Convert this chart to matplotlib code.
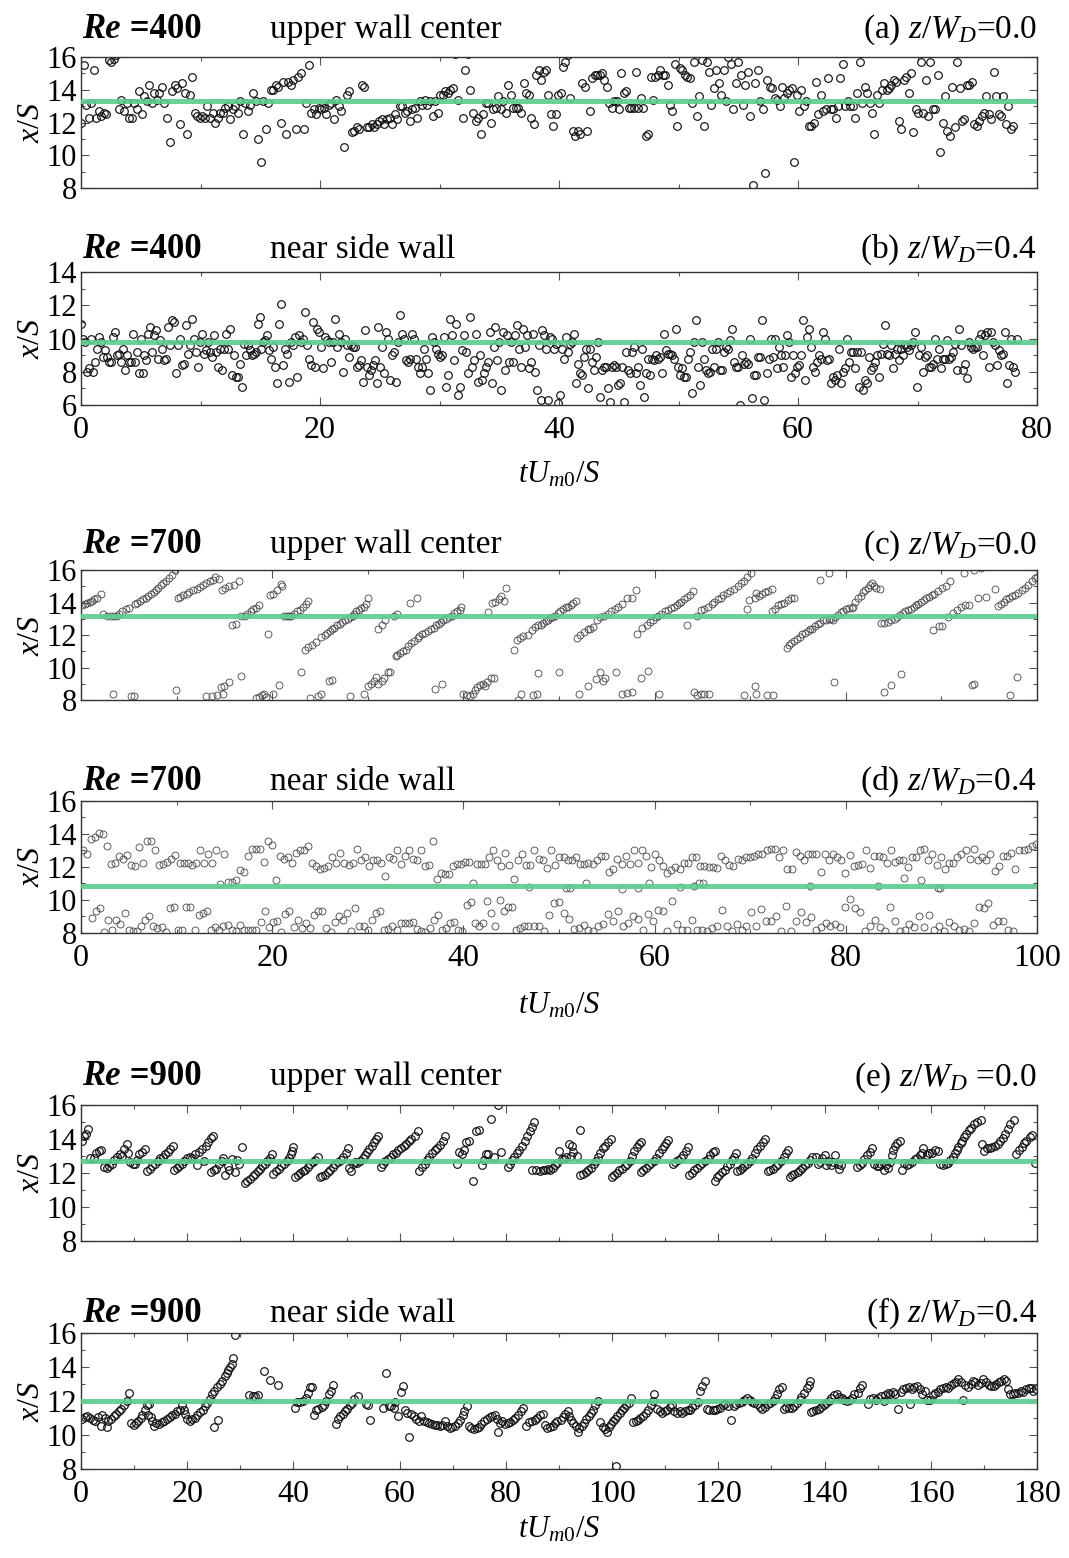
import numpy as np
import matplotlib.pyplot as plt
from matplotlib.ticker import MultipleLocator

plt.rcParams['font.family'] = 'Liberation Serif'
plt.rcParams['mathtext.fontset'] = 'custom'
plt.rcParams['mathtext.rm'] = 'Liberation Serif'
plt.rcParams['mathtext.it'] = 'Liberation Serif:italic'
plt.rcParams['mathtext.bf'] = 'Liberation Serif:bold'

GREEN = '#5ccb8f'

# ---------------- data ----------------
# (a) Re=400, upper wall center: evenly sampled in time, two stretches
a_first = [12.0, 15.5, 13.1, 12.25, 13.2, 15.2, 12.25, 12.7, 12.4, 12.6, 12.5, 15.8, 15.7, 15.9, 16.1,
           12.8, 13.4, 12.7, 13.2, 12.3, 12.3, 13.2, 12.8, 13.9, 12.5, 13.6, 13.3, 14.3, 13.2, 13.8,
           13.4, 13.8, 14.2, 13.2, 12.3, 10.8, 13.9, 14.3, 14.1, 11.9, 14.4, 13.8, 11.3, 13.7, 14.8,
           12.6, 12.4, 12.3, 12.4, 12.3, 13.0, 12.3, 12.6, 12.0, 12.3, 12.6, 12.6, 12.9, 13.0, 12.2,
           12.8, 13.0, 12.6, 13.3, 11.3, 13.2, 12.7, 13.1, 13.8, 13.3, 11.0, 9.6, 13.3, 11.6, 13.2,
           14.0, 14.0, 14.3, 14.2, 12.0, 14.5, 11.3, 14.5, 14.3, 14.6, 11.6, 14.8, 15.0, 11.6, 13.2,
           15.5, 12.6, 12.8, 12.5, 12.9, 12.8, 12.9, 12.5, 13.1, 13.2, 12.2, 13.4, 13.0, 12.7, 10.5,
           13.7, 13.9, 11.4, 11.5, 11.7, 11.6, 14.3, 14.2, 11.7, 11.7, 11.9, 11.7, 11.9, 12.1, 12.2,
           11.9, 12.2, 12.3, 11.9, 12.5, 12.2, 13.0, 13.0, 12.6, 12.7, 12.1, 12.8, 12.9, 12.3, 13.3,
           13.1, 13.4, 13.1, 13.3, 12.4, 13.3, 12.6, 13.7, 13.7, 13.9, 13.8, 14.0, 14.1, 16.2, 13.4,
           16.3, 12.3, 15.2, 16.2, 14.0, 12.6, 12.1, 12.3, 11.3, 12.5, 13.2, 13.2, 12.0, 12.8, 12.9,
           13.6, 12.8, 13.3, 12.6, 14.3, 13.7, 12.9, 12.9, 12.9, 12.6, 14.4, 13.8, 13.7, 12.3, 11.9,
           14.9, 15.2]
a_second = [14.6, 15.1, 15.2, 13.7, 12.5, 11.8, 12.5, 13.7, 13.8, 15.4, 15.7, 16.1, 13.5, 11.5, 11.2,
            11.5, 11.3, 14.4, 14.2, 11.5, 12.7, 14.7, 14.9, 14.9, 14.9, 15.0, 14.6, 14.2, 13.2, 12.9,
            13.3, 13.3, 12.8, 15.0, 13.8, 13.9, 12.9, 12.9, 12.9, 15.1, 12.9, 13.5, 12.9, 11.2, 11.3,
            14.8, 13.4, 14.8, 14.9, 15.2, 14.9, 14.9, 14.3, 13.1, 12.7, 15.6, 11.8, 15.3, 15.2, 14.9,
            14.8, 14.7, 13.2, 15.7, 12.4, 13.6, 15.8, 11.8, 15.7, 15.1, 13.1, 14.1, 15.2, 14.4, 13.7,
            15.2, 13.3, 16.0, 15.6, 12.8, 14.4, 15.7, 14.9, 13.1, 14.3, 15.1, 12.4, 8.2, 14.4, 15.2,
            13.3, 12.8, 8.9, 14.6, 14.2, 14.1, 13.5, 13.4, 13.0, 14.2, 13.5, 13.8, 14.0, 14.1, 9.6,
            13.7, 12.7, 14.0, 13.0, 13.3, 11.8, 11.8, 12.0, 14.5, 12.5, 13.7, 12.7, 12.8, 14.7, 12.8,
            12.8, 12.3, 13.0, 14.7, 15.6, 13.0, 13.3, 13.0, 13.0, 12.3, 13.8, 15.7, 13.2, 14.2, 13.8,
            13.2, 12.6, 11.3, 13.7, 13.2, 14.0, 14.4, 14.0, 14.1, 14.3, 14.6, 14.5, 12.1, 11.6, 14.6,
            14.8, 13.8, 15.0, 11.4, 12.8, 12.6, 15.7, 12.6, 14.6, 12.4, 15.7, 12.8, 12.8, 14.9, 10.2,
            12.0, 13.6, 11.5, 11.2, 14.2, 11.7, 15.7, 14.1, 12.1, 12.2, 14.3, 14.3, 14.5, 11.9, 11.8,
            12.1, 12.4, 12.6, 13.6, 12.5, 12.2, 15.1, 13.6, 12.5, 12.4, 13.6, 11.9, 13.0, 11.6, 11.8]
a_mean = 13.3

# (b) Re=400, near side wall
b_first = [10.9, 10.0, 9.8, 8.0, 8.2, 10.0, 8.0, 8.6, 9.4, 10.1, 9.8, 8.9, 9.3, 8.9, 8.6, 8.6, 10.1, 10.4,
           9.0, 9.1, 8.6, 9.4, 8.1, 9.0, 8.6, 8.6, 10.3, 8.6, 9.2, 7.9, 10.0, 7.9, 9.0, 8.7, 10.3, 10.7,
           9.2, 10.2, 10.5, 8.8, 9.9, 9.4, 8.7, 8.8, 10.7, 9.6, 11.1, 11.0, 7.9, 9.6, 10.0, 8.4, 8.5,
           10.8, 9.1, 9.6, 11.2, 10.0, 9.2, 8.3, 9.8, 10.3, 9.1, 9.3, 9.8, 9.2, 8.9, 10.2, 9.2, 8.3,
           9.4, 8.1, 9.4, 10.3, 9.4, 10.6, 7.8, 9.0, 7.7, 7.7, 8.5, 7.1, 9.7, 9.0, 9.6, 9.3, 9.0, 9.1,
           9.2, 10.9, 11.3, 9.4, 9.8, 9.9, 10.2, 9.3, 8.8, 9.5, 8.3, 7.3, 10.9, 12.1, 8.4, 9.4, 9.1,
           7.4, 9.8, 9.6, 10.1, 7.7, 10.2, 9.8, 10.0, 11.6, 9.6, 8.8, 8.4, 11.0, 8.3, 10.6, 10.4, 9.5,
           8.2, 10.1, 9.9, 9.8, 8.6, 9.8, 11.2, 9.5, 10.3, 9.8, 8.0, 10.0, 9.6, 8.9, 9.6, 9.5, 9.5,
           8.3, 8.4, 8.7, 7.4, 10.5, 8.3, 7.8, 8.1, 8.4, 8.7, 7.3, 10.7, 8.3, 9.5, 7.9, 10.4, 10.0,
           7.5, 9.0, 9.2, 7.4, 9.8, 11.4, 10.3, 10.0, 8.7, 8.6, 8.8, 10.3, 10.0, 8.8, 8.3, 7.9, 8.3,
           9.4, 8.8, 7.9, 6.9, 10.1, 9.8, 9.4, 9.1, 8.9, 9.0, 10.1, 7.1, 7.8, 11.2, 10.2, 8.7, 10.9,
           6.6, 7.1, 9.3, 10.2, 9.2, 7.9, 11.3, 8.3, 8.7, 10.3, 7.4, 9.0, 7.5, 7.9, 8.3, 8.6, 10.4,
           7.3, 9.5, 10.7, 8.7, 9.8, 6.9, 10.4, 8.1, 10.2, 8.6, 9.8, 8.6, 10.2, 10.8, 9.4, 8.3, 10.6,
           9.5, 10.2, 8.2, 8.6, 10.3, 8.0, 6.9, 9.6, 6.3]
b_second = [10.5, 10.2, 9.4, 6.3, 10.1, 10.0, 9.4, 9.7, 6.1, 6.6, 9.4, 8.8, 10.1, 9.2, 9.7, 9.8, 10.3,
            7.3, 8.5, 7.9, 7.8, 8.9, 9.4, 7.0, 9.4, 8.6, 8.1, 8.9, 9.8, 6.5, 8.1, 8.3, 8.3, 7.0, 6.2,
            8.3, 8.4, 8.3, 7.2, 7.3, 8.3, 6.2, 9.2, 8.1, 7.9, 9.2, 9.5, 7.9, 8.3, 7.2, 9.4, 6.5, 7.9,
            8.8, 7.8, 8.8, 8.7, 9.0, 8.8, 8.9, 7.9, 10.3, 9.3, 9.1, 9.1, 9.0, 8.8, 10.6, 8.3, 7.8, 8.2,
            7.7, 7.7, 8.8, 9.2, 6.7, 9.8, 11.1, 8.3, 7.2, 9.8, 8.8, 8.1, 7.9, 8.0, 9.4, 8.3, 9.4, 9.8,
            8.1, 8.1, 9.2, 9.5, 9.4, 9.9, 10.6, 8.6, 8.3, 8.3, 6.0, 9.0, 8.5, 8.6, 8.5, 10.0, 6.4, 7.8,
            7.8, 8.9, 8.9, 11.1, 6.3, 7.9, 8.8, 10.0, 8.9, 10.0, 8.2, 9.5, 9.0, 8.3, 9.0, 10.2, 9.8,
            7.7, 9.0, 7.9, 8.3, 8.4, 9.0, 11.1, 7.5, 10.1, 10.6, 9.5, 8.3, 8.0, 8.6, 9.0, 8.8, 10.4,
            10.0, 8.7, 8.8, 7.3, 7.7, 7.5, 7.8, 9.4, 7.3, 8.0, 8.2, 10.0, 8.6, 9.2, 9.2, 8.2, 9.2, 7.1,
            9.2, 6.9, 7.5, 7.3, 8.9, 8.1, 8.3, 8.6, 9.0, 7.7, 9.1, 9.7, 10.8, 9.1, 9.0, 9.6, 8.2, 9.1,
            9.4, 8.7, 9.4, 9.0, 9.6, 9.5, 9.3, 9.6, 9.8, 10.4, 7.1, 9.0, 9.5, 8.0, 8.9, 9.0, 8.3, 8.3,
            8.5, 10.0, 8.8, 9.4, 8.2, 8.8, 8.8, 9.9, 8.8, 8.9, 9.2, 9.7, 8.1, 10.6, 9.6, 8.1, 8.5, 7.6,
            9.8, 9.5, 9.4, 9.5, 9.5, 10.0, 10.3, 9.0, 10.2, 10.4, 8.3, 10.4, 9.8, 9.6, 8.4, 9.3, 9.0,
            9.1, 10.4, 7.3, 8.4, 10.0, 8.3, 8.0, 10.0]
b_mean = 9.78

# (c) Re=700, upper wall center: (t, x/S)
c_pts = [
    (0.1, 13.85), (0.4, 13.9), (0.6, 14.0), (0.9, 14.05), (1.1, 14.1), (1.4, 14.2), (1.7, 14.3), (2.1, 14.5),
    (2.3, 13.3), (2.7, 13.2), (3.1, 13.15), (3.4, 13.15), (3.8, 13.2), (4.0, 13.3), (4.3, 13.45), (4.7, 13.6),
    (5.0, 13.65), (5.6, 13.9), (5.9, 14.0), (6.2, 14.1), (6.5, 14.2), (6.8, 14.3), (7.0, 14.4), (7.3, 14.5),
    (7.6, 14.65), (7.8, 14.8), (8.1, 14.9), (8.4, 15.1), (8.6, 15.2), (8.9, 15.35), (9.2, 15.5), (9.5, 15.7),
    (9.8, 16.0), (3.3, 8.4), (5.2, 8.25), (5.5, 8.25), (9.9, 8.6),
    (10.1, 14.3), (10.4, 14.35), (10.7, 14.45), (11.1, 14.55), (11.3, 14.65), (11.7, 14.75), (12.1, 14.85),
    (12.4, 14.95), (12.8, 15.1), (13.1, 15.2), (13.5, 15.3), (13.8, 15.4), (14.0, 15.6), (14.4, 15.45),
    (14.7, 14.8), (15.1, 14.9), (15.5, 15.0), (16.0, 15.1), (16.5, 15.35),
    (13.1, 8.25), (13.7, 8.25), (14.2, 8.3), (14.6, 8.8), (14.9, 8.35), (15.0, 8.85), (15.5, 9.1), (16.7, 9.5),
    (15.8, 12.6), (16.2, 12.65),
    (18.3, 8.15), (18.6, 8.2), (18.9, 8.3), (19.1, 8.4), (19.4, 8.2), (20.1, 8.4), (20.7, 8.9), (19.6, 12.05),
    (19.8, 14.45), (20.1, 14.55), (20.5, 14.75), (20.9, 15.15), (21.0, 15.0),
    (16.7, 13.15), (17.1, 13.2), (17.4, 13.3), (17.8, 13.5), (18.0, 13.6), (18.3, 13.65), (18.6, 13.85),
    (21.2, 13.15), (21.5, 13.2), (21.8, 13.15), (22.0, 13.2), (22.3, 13.3), (22.6, 13.45), (22.9, 13.55),
    (23.2, 13.75), (23.5, 13.9), (23.7, 14.1), (23.0, 9.75),
    (23.4, 11.1), (23.7, 11.25), (24.2, 11.4), (24.6, 11.6), (25.1, 11.9), (25.5, 12.0), (25.7, 12.15),
    (26.0, 12.25), (26.3, 12.35), (26.5, 12.45), (26.8, 12.6), (27.1, 12.7), (27.3, 12.8), (27.6, 12.95),
    (27.9, 13.0), (28.1, 13.1), (28.4, 13.15), (28.6, 13.3), (28.8, 13.45), (29.1, 13.55), (29.3, 13.65),
    (29.6, 13.75), (29.8, 13.9), (30.0, 14.25),
    (24.0, 8.15), (24.8, 8.25), (25.1, 8.4), (25.9, 9.2), (26.3, 9.25), (28.1, 8.25), (29.6, 8.4), (30.0, 8.85),
    (30.3, 9.0), (30.6, 9.2), (30.9, 9.4), (31.1, 9.0), (31.5, 9.2), (31.7, 9.35), (32.1, 9.7), (32.3, 9.75),
    (31.1, 12.4), (31.5, 12.6), (31.8, 12.9), (32.7, 13.15), (33.0, 13.3), (34.4, 13.95), (35.1, 14.25),
    (32.9, 10.7), (33.1, 10.75), (33.4, 10.9), (33.7, 11.0), (34.0, 11.1), (34.2, 11.3), (34.5, 11.5),
    (34.8, 11.65), (35.2, 11.8), (35.4, 11.95), (35.7, 12.05), (36.0, 12.15), (36.3, 12.25), (36.6, 12.35),
    (36.9, 12.45), (37.1, 12.6), (37.4, 12.7), (37.7, 12.8), (37.9, 12.9), (38.2, 13.0), (38.5, 13.1),
    (38.8, 13.15), (39.0, 13.35), (39.3, 13.45), (39.6, 13.55), (39.7, 13.7),
    (37.0, 8.65), (37.8, 9.0), (40.0, 8.35), (40.4, 8.3), (40.7, 8.25), (41.0, 8.4), (41.2, 8.6), (41.4, 8.8),
    (41.7, 8.9), (42.0, 9.0), (42.3, 8.85), (42.5, 9.1), (42.9, 9.35), (43.2, 9.35),
    (42.6, 13.4), (43.0, 13.95), (43.3, 14.05), (43.7, 14.2), (43.9, 14.4), (44.2, 14.1), (44.5, 14.9),
    (45.3, 11.1), (45.6, 11.7), (45.9, 11.8), (46.2, 11.95), (45.7, 8.0), (46.0, 8.4), (47.3, 8.3),
    (46.8, 12.0), (47.2, 12.3), (47.5, 12.5), (47.8, 12.6), (48.1, 12.6), (48.3, 12.75), (48.6, 12.85),
    (48.8, 12.95), (49.1, 13.05), (49.3, 13.1), (49.6, 13.2), (49.9, 13.35), (50.1, 13.45), (50.4, 13.6),
    (50.7, 13.7), (50.9, 13.75), (51.2, 13.85), (51.5, 13.95), (51.8, 14.1),
    (47.8, 9.65), (47.7, 8.35), (50.0, 9.75), (52.1, 8.35), (53.0, 8.85), (53.9, 9.3), (54.3, 9.75),
    (54.6, 9.2), (54.8, 9.35), (56.0, 9.7), (56.6, 8.35), (57.1, 8.45), (57.6, 8.5), (58.6, 9.35),
    (59.3, 9.8), (60.5, 8.4),
    (51.9, 11.8), (52.2, 12.0), (52.6, 12.2), (53.0, 12.35), (53.2, 12.4), (53.6, 12.5), (54.0, 12.95),
    (54.3, 13.1), (54.7, 13.2), (55.1, 13.3), (55.4, 13.45), (55.9, 13.6), (56.2, 13.75), (56.6, 13.9),
    (57.1, 14.25), (57.6, 14.3), (58.0, 14.75),
    (58.2, 12.05), (58.7, 12.45), (59.2, 12.6), (59.5, 12.8), (59.8, 12.95), (60.1, 13.1), (60.4, 13.2),
    (60.7, 13.3), (61.1, 13.45), (61.4, 13.55), (61.7, 13.65), (62.0, 13.75), (62.3, 13.85), (62.5, 13.95),
    (62.8, 14.05), (63.1, 14.2), (63.4, 14.35), (63.7, 14.45), (64.0, 14.7), (63.4, 12.6), (64.4, 13.2),
    (64.1, 8.5), (64.4, 8.3), (64.8, 8.35), (65.2, 8.4), (65.7, 8.4),
    (64.9, 13.55), (65.2, 13.6), (65.6, 13.7), (66.0, 13.9), (66.2, 14.05), (66.6, 14.2), (66.9, 14.3),
    (67.2, 14.45), (67.6, 14.6), (67.9, 14.7), (68.3, 14.85), (68.7, 15.0), (69.0, 15.2), (69.4, 15.35),
    (69.7, 15.55), (70.1, 15.85),
    (69.7, 13.6), (69.9, 14.15), (70.5, 14.3), (70.6, 14.6), (70.9, 14.4), (71.2, 14.55), (71.5, 14.65),
    (71.9, 14.7), (72.3, 14.85), (69.4, 8.3), (70.5, 8.85), (70.6, 8.35), (71.8, 8.3), (72.4, 8.3),
    (72.3, 13.5), (72.6, 13.6), (72.9, 13.85), (73.2, 13.9), (73.5, 14.0), (73.9, 14.15), (74.3, 14.25),
    (74.6, 14.25), (77.3, 15.4), (78.2, 15.8),
    (73.8, 11.2), (74.1, 11.4), (74.3, 11.5), (74.6, 11.65), (74.9, 11.75), (75.2, 11.85), (75.4, 12.05),
    (75.7, 12.1), (76.0, 12.25), (76.2, 12.35), (76.5, 12.4), (76.8, 12.55), (77.1, 12.7), (77.3, 12.75),
    (77.6, 12.9), (77.9, 12.95), (78.2, 13.0), (78.4, 13.0), (78.7, 12.9), (78.9, 13.1), (79.2, 13.25),
    (79.5, 13.4), (79.7, 13.45), (80.0, 13.6), (80.3, 13.65), (80.6, 13.65), (80.8, 13.7), (81.0, 14.05),
    (81.3, 14.25), (81.6, 14.4), (81.8, 14.65), (82.0, 14.75), (82.3, 14.9), (82.5, 15.1), (82.7, 15.2),
    (82.9, 15.0), (83.2, 14.9), (83.6, 14.85),
    (78.8, 9.1), (84.0, 8.5), (84.7, 8.95), (85.8, 9.6),
    (83.7, 12.75), (84.0, 12.75), (84.4, 12.8), (84.7, 12.9), (85.1, 13.0), (85.4, 13.1), (85.7, 13.25),
    (86.0, 13.35), (86.2, 13.45), (86.5, 13.55), (86.8, 13.6), (87.1, 13.75), (87.3, 13.85), (87.6, 13.9),
    (87.9, 14.05), (88.2, 14.15), (88.4, 14.25), (88.7, 14.35), (89.0, 14.45), (89.2, 14.55), (89.6, 14.7),
    (90.1, 14.9), (90.5, 15.0), (90.9, 15.3), (92.4, 15.8), (93.4, 16.0), (94.1, 16.1),
    (89.1, 12.3), (89.7, 12.55), (90.1, 12.55), (90.7, 13.1), (91.2, 13.35), (91.6, 13.55), (92.0, 13.7),
    (92.5, 13.85), (92.9, 13.85), (93.8, 14.25), (94.7, 14.35), (95.6, 14.85),
    (93.2, 8.9), (93.4, 9.0), (97.2, 8.3), (97.9, 9.4),
    (95.9, 13.8), (96.2, 13.9), (96.5, 14.05), (96.8, 14.2), (97.1, 14.3), (97.4, 14.4), (97.7, 14.45),
    (98.0, 14.6), (98.4, 14.75), (98.7, 14.9), (99.1, 15.1), (99.5, 15.3), (99.8, 15.5), (100.0, 15.6),
]
c_mean = 13.15

# (d) Re=700, near side wall: upper and lower clusters, evenly sampled in time
d_up_first = [13.05, 12.8, 13.7, 13.8, 14.05, 14.0, 13.3, 12.2, 12.25, 12.65, 12.5, 12.7, 12.1, 12.05, 13.2,
              12.25, 13.55, 13.55, 13.05, 12.1, 12.2, 12.3, 12.5, 12.7, 12.25, 12.25, 12.25, 12.1, 12.25,
              13.0, 12.25, 12.8, 12.25, 13.05, 10.95, 12.8, 11.1, 11.1, 11.2, 11.8, 11.7, 12.65, 13.1,
              13.1, 13.1, 12.3, 13.55, 13.35, 11.2, 12.65, 12.5, 12.6, 12.25, 12.85, 13.0, 13.05, 13.25,
              12.25, 12.05, 11.85, 11.95, 12.05, 12.6, 12.25, 12.85, 12.25, 12.1, 12.25, 13.1, 12.4,
              12.6, 12.05, 12.45, 12.45, 12.25, 11.45, 12.6, 12.5, 13.0, 12.15, 12.65, 13.0, 12.5, 12.4,
              13.0, 12.05, 12.1, 13.55, 11.25, 11.65, 11.55, 11.55, 12.05, 12.15, 12.15, 12.3, 12.3,
              11.05, 12.2, 12.2, 12.2, 12.6, 13.05, 12.4, 12.05, 12.85, 12.1, 11.25, 12.45, 12.8, 12.1]
d_up_second = [12.1, 13.0, 12.5, 12.45, 11.95, 13.05, 12.1, 12.6, 12.6, 12.4, 12.4, 12.6, 12.2, 12.15,
               12.25, 12.15, 12.4, 12.65, 12.65, 11.7, 11.9, 12.5, 12.15, 12.65, 12.2, 13.0, 12.25, 13.0,
               12.65, 12.0, 12.8, 12.4, 12.05, 11.65, 11.8, 12.0, 11.9, 12.25, 12.25, 12.6, 12.6, 12.05,
               12.05, 12.0, 12.0, 11.95, 12.65, 12.45, 12.1, 12.05, 12.5, 12.45, 12.6, 12.6, 12.65, 12.8,
               12.8, 13.05, 13.1, 13.1, 12.6, 13.05, 11.9, 11.9, 12.9, 12.65, 12.4, 12.8, 12.8, 12.8,
               11.7, 12.8, 12.45, 12.8, 12.6, 12.4, 11.65, 12.7, 12.05, 12.1, 12.15, 13.0, 11.95, 12.65,
               12.65, 12.6, 12.25, 13.0, 12.3, 12.45, 12.45, 12.0, 12.6, 12.6, 13.0, 13.1, 12.45, 12.8,
               12.1, 12.6, 11.9, 12.25, 12.25, 12.6, 12.8, 13.05, 12.5, 13.1, 12.45, 12.6, 12.4, 12.8,
               11.75, 12.05, 12.65, 12.65, 12.85, 11.9, 13.05, 13.05, 13.1, 13.25, 13.4]
d_low_first = [8.9, 9.35, 9.5, 8.05, 8.8, 8.2, 8.8, 8.55, 9.2, 8.2, 8.1, 8.1, 8.45, 8.8, 9.0, 8.45, 8.3,
               8.35, 8.05, 9.5, 9.6, 8.15, 8.15, 9.55, 9.6, 8.15, 9.1, 9.2, 9.3, 8.2, 8.35, 8.2, 8.45, 8.5,
               8.2, 8.1, 8.5, 8.2, 8.2, 8.15, 8.2, 8.65, 9.35, 8.35, 8.65, 8.7, 8.05, 9.15, 9.3, 8.35, 8.8,
               8.3, 8.6, 8.3, 9.1, 9.3, 9.35, 8.3, 8.05, 8.65, 9.0, 8.8, 9.2, 8.1, 9.5, 8.45, 8.45, 8.15,
               8.8, 9.2, 9.35, 8.15, 8.25, 8.4, 8.15, 8.6, 8.6, 8.6, 8.65, 8.25, 8.1, 8.05, 8.3, 8.8, 9.1,
               8.2, 8.3, 8.6, 8.65, 8.2, 8.1, 9.7, 9.85, 8.6, 8.4, 8.6, 9.95, 9.2, 8.45, 10.0, 9.35, 9.55,
               9.6, 8.15, 8.3, 8.45, 8.4]
d_low_second = [8.4, 8.45, 8.1, 9.1, 9.8, 9.85, 9.2, 8.85, 8.25, 8.3, 8.5, 8.2, 8.1, 8.45, 8.55, 9.15,
                8.75, 9.3, 8.4, 8.6, 9.0, 8.85, 8.2, 9.15, 8.75, 9.4, 9.3, 8.1, 9.95, 8.55, 8.2, 8.2, 8.8,
                8.2, 8.2, 8.1, 8.3, 8.45, 9.4, 8.4, 8.1, 8.55, 8.2, 8.4, 9.25, 8.45, 9.45, 8.75, 8.75, 9.0,
                8.1, 9.65, 8.1, 8.75, 9.25, 8.65, 8.95, 8.2, 8.35, 8.6, 8.4, 8.55, 8.35, 9.6, 10.05, 9.5,
                9.25, 8.1, 8.45, 8.8, 8.35, 8.1, 9.6, 8.75, 8.1, 8.15, 8.55, 8.35, 9.05, 8.35, 9.1, 8.2,
                8.45, 8.1, 8.65, 8.4, 8.2, 8.25, 8.1, 8.6, 9.6, 9.5, 9.8, 8.5, 8.75, 8.75, 8.2, 8.1]
d_mid_pts = [(46.9, 10.8), (50.7, 10.7), (51.1, 10.7), (52.8, 11.0), (56.6, 10.65), (58.3, 10.7),
             (59.4, 11.0), (62.7, 10.8), (64.1, 10.85), (64.6, 11.0), (65.1, 11.0), (76.3, 10.85),
             (83.4, 10.85), (86.1, 11.35), (87.9, 11.2), (89.6, 10.7), (89.9, 10.7)]
d_mean = 10.84

# (e) Re=900, upper wall center: (t, x/S)
e_pts = [
    (0.1, 13.9), (0.5, 14.15), (1.0, 14.3), (1.4, 14.6), (1.7, 12.85), (2.4, 12.85), (2.9, 13.2), (3.4, 13.3),
    (3.8, 13.35), (4.4, 12.35), (4.9, 12.3), (5.3, 12.4), (5.8, 12.55), (6.3, 12.75), (6.8, 12.95), (7.3, 13.1),
    (7.7, 13.0), (8.1, 13.4), (8.6, 13.7), (8.9, 13.2), (9.2, 12.65), (9.7, 12.55), (10.2, 12.5), (10.5, 12.75),
    (11.0, 13.1), (11.5, 13.25), (12.0, 13.4),
    (12.5, 12.1), (12.9, 12.25), (13.4, 12.4), (13.9, 12.55), (14.4, 12.7), (14.9, 12.85), (15.4, 12.95),
    (15.9, 13.1), (16.4, 13.25), (16.8, 13.4), (17.4, 13.6),
    (17.5, 12.2), (18.0, 12.3), (18.5, 12.4), (19.0, 12.55), (19.4, 12.7), (19.9, 12.85), (20.5, 12.95),
    (20.9, 12.9), (21.4, 13.1), (21.9, 12.45), (22.2, 13.25), (22.7, 13.4), (23.1, 12.7), (23.5, 13.6),
    (24.0, 13.8), (24.4, 14.05), (24.8, 14.15),
    (24.5, 12.05), (25.0, 12.15), (25.5, 12.25), (25.9, 12.5), (26.5, 12.7), (26.8, 12.9), (27.1, 11.9),
    (27.6, 12.4), (27.9, 12.2), (28.4, 12.8), (28.9, 12.05), (29.4, 12.75), (29.8, 12.55), (30.4, 13.5),
    (30.9, 11.4), (31.3, 11.5), (31.8, 11.65), (32.3, 11.8), (32.8, 11.95), (33.3, 12.1), (33.7, 12.25),
    (34.1, 12.4), (34.6, 12.55), (35.0, 12.7), (35.5, 12.85), (35.9, 13.1),
    (36.2, 11.95), (36.7, 12.1), (37.2, 12.25), (37.6, 12.4), (38.2, 12.55), (38.7, 12.7), (39.1, 12.9),
    (39.5, 13.1), (39.8, 13.3), (40.0, 13.5),
    (40.2, 11.75), (40.8, 11.85), (41.3, 12.0), (41.7, 12.1), (42.2, 12.2), (42.7, 12.35), (43.2, 12.5),
    (43.7, 12.65), (44.1, 12.75), (44.7, 12.95),
    (45.0, 11.75), (45.4, 11.8), (45.9, 11.9), (46.5, 12.05), (46.9, 12.2), (47.4, 12.35), (47.9, 12.5),
    (48.4, 12.65), (48.9, 12.75), (49.4, 12.95), (49.9, 13.15), (50.2, 13.45),
    (50.5, 12.3), (50.9, 12.1), (51.2, 12.5), (51.5, 12.65), (52.0, 12.6), (52.5, 12.7), (53.0, 12.85),
    (53.5, 13.05), (53.9, 13.25), (54.3, 13.4), (54.8, 13.6), (55.2, 13.8), (55.6, 14.0), (56.0, 14.15),
    (56.4, 12.35), (56.9, 12.55), (57.3, 12.7), (57.8, 12.8), (58.3, 12.95), (58.8, 13.1), (59.3, 13.2),
    (59.7, 13.35), (60.3, 13.45), (60.8, 13.6), (61.2, 13.7), (61.7, 13.85), (62.2, 14.0), (62.9, 14.15),
    (63.4, 14.45),
    (63.7, 12.1), (64.2, 12.35), (64.7, 12.55), (65.2, 12.75), (65.6, 12.95), (66.1, 13.15), (66.6, 13.35),
    (67.1, 13.45), (67.6, 13.65), (68.1, 13.9), (68.6, 14.15),
    (70.8, 12.55), (71.2, 13.25), (71.7, 13.1), (72.1, 13.35), (72.5, 13.8), (73.1, 13.85), (73.8, 11.5),
    (74.3, 14.45), (74.9, 14.5), (75.5, 12.45), (75.9, 12.75), (76.2, 13.1), (76.7, 13.1), (77.1, 15.2),
    (77.8, 12.95), (78.5, 16.0), (79.0, 13.25),
    (80.3, 12.35), (80.8, 12.55), (81.1, 12.75), (81.6, 12.95), (82.1, 13.15), (82.5, 13.35), (83.0, 13.6),
    (83.5, 13.85), (84.0, 14.15), (84.5, 14.45), (85.0, 14.7), (85.3, 15.0), (85.0, 12.15), (85.6, 12.2),
    (86.4, 12.1), (86.9, 12.2), (87.4, 12.2), (87.9, 12.25), (88.3, 12.2), (88.8, 12.3), (89.2, 12.45),
    (89.6, 12.6), (90.0, 13.3), (90.5, 12.8), (90.9, 12.8), (91.4, 12.95), (91.8, 13.7), (92.4, 13.6),
    (92.7, 13.25), (92.2, 13.0), (93.4, 13.0), (93.9, 14.55),
    (94.0, 11.9), (94.5, 11.95), (95.0, 12.05), (95.5, 12.15), (96.0, 12.3), (96.5, 12.5), (97.0, 12.7),
    (97.3, 12.95), (97.8, 13.2), (98.3, 13.45), (98.7, 13.6), (99.2, 13.8), (99.8, 14.0),
    (99.9, 11.75), (100.4, 11.9), (100.9, 12.0), (101.3, 12.15), (101.8, 12.25), (102.4, 12.4), (102.8, 12.5),
    (103.3, 12.7), (103.7, 13.0), (104.1, 13.3), (104.6, 13.5), (105.0, 13.7), (105.4, 13.8),
    (105.4, 12.05), (105.9, 12.2), (106.4, 12.3), (106.9, 12.45), (107.4, 12.6), (107.8, 12.7), (108.3, 12.9),
    (108.9, 13.15), (109.3, 13.4), (109.8, 13.6), (110.2, 13.75), (110.6, 13.95),
    (111.5, 12.5), (111.9, 12.65), (112.4, 12.75), (112.9, 12.9), (113.4, 13.05), (113.9, 13.3), (114.3, 13.55),
    (114.5, 11.9), (115.0, 12.0), (115.5, 12.2), (116.0, 12.3), (116.5, 12.45), (117.0, 12.6), (117.4, 12.7),
    (118.0, 12.8), (118.4, 13.05), (118.9, 13.25), (119.4, 13.3),
    (119.3, 11.55), (119.7, 11.75), (120.2, 11.9), (120.7, 12.05), (121.2, 12.2), (121.7, 12.4), (122.1, 12.55),
    (122.6, 12.75), (123.0, 12.95), (123.3, 13.2),
    (123.6, 12.1), (124.1, 12.2), (124.5, 12.3), (124.9, 12.4), (125.4, 12.5), (125.9, 12.7), (126.4, 12.9),
    (126.9, 13.15), (127.3, 13.4), (127.8, 13.6), (128.4, 13.8), (128.8, 14.0),
    (129.3, 12.1), (129.8, 12.15), (130.3, 12.25), (130.8, 12.4), (131.2, 12.5), (131.7, 12.7), (132.3, 12.95),
    (132.7, 13.15), (133.2, 13.35),
    (133.4, 11.75), (133.8, 11.85), (134.3, 11.95), (134.9, 12.05), (135.3, 12.2), (135.8, 12.3), (136.3, 12.45),
    (136.8, 12.6), (137.3, 12.75), (137.7, 12.95), (138.3, 12.95), (138.8, 12.5), (139.2, 12.65), (139.6, 12.85),
    (140.1, 13.05), (140.3, 12.45), (140.7, 12.7), (141.2, 12.45), (141.5, 12.65), (142.0, 13.05), (142.5, 12.5),
    (142.8, 12.25), (143.1, 12.45),
    (146.1, 12.35), (146.6, 12.45), (147.0, 12.6), (147.5, 12.8), (148.0, 13.05), (148.5, 13.25), (149.0, 13.45),
    (149.3, 12.5), (149.8, 12.4), (150.3, 12.4), (150.6, 12.5), (151.1, 12.2), (151.6, 12.45), (151.9, 12.3),
    (152.3, 12.65), (152.6, 13.05), (152.9, 13.35), (153.2, 13.6), (153.7, 13.75), (154.2, 13.9),
    (154.5, 12.2), (155.0, 12.6), (155.5, 12.45), (155.9, 12.55), (156.5, 12.65), (157.0, 12.8), (157.4, 12.9),
    (157.9, 13.05), (158.3, 13.2), (158.5, 13.45), (159.2, 13.05), (159.7, 13.15), (160.2, 13.2), (160.7, 13.35),
    (161.3, 13.3),
    (161.8, 12.5), (162.3, 12.45), (162.8, 12.5), (163.3, 12.6), (163.7, 12.75), (164.1, 12.95), (164.6, 13.15),
    (164.9, 13.35), (165.2, 13.55), (165.6, 13.75), (165.9, 13.9), (166.3, 14.1), (166.7, 14.3), (167.2, 14.5),
    (167.6, 14.65), (168.2, 14.85), (168.7, 15.0), (169.5, 15.1),
    (169.6, 13.7), (170.1, 13.3), (170.6, 13.45), (171.1, 13.45), (171.5, 13.55), (172.1, 13.6), (172.6, 13.7),
    (173.0, 13.85), (173.5, 14.05), (174.0, 14.3), (174.5, 14.6), (175.0, 14.85), (175.6, 15.1),
    (176.1, 13.1), (176.6, 13.35), (177.1, 13.55), (177.6, 13.75), (178.0, 13.9), (178.6, 14.1), (179.1, 14.25),
    (179.7, 12.6),
]
e_mean = 12.72

# (f) Re=900, near side wall: (t, x/S)
f_pts = [
    (0.1, 10.95), (0.8, 11.05), (1.2, 11.1), (1.7, 11.0), (2.3, 10.9), (2.7, 10.8), (3.2, 11.05), (3.7, 10.55),
    (4.0, 11.15), (4.5, 11.0), (4.9, 10.5), (5.1, 10.8), (5.7, 10.95), (6.2, 11.1), (6.6, 11.25), (7.1, 11.4),
    (7.6, 11.55), (8.1, 11.75), (8.6, 12.0), (9.0, 12.45),
    (9.4, 10.7), (9.9, 10.6), (10.3, 10.7), (10.7, 10.85), (11.2, 11.0), (11.5, 11.15), (12.0, 11.45),
    (12.5, 11.75), (12.8, 11.8),
    (12.7, 11.15), (13.1, 11.05), (13.4, 10.8), (13.8, 10.55), (14.2, 10.7), (14.7, 10.65), (15.3, 10.75),
    (15.7, 10.85), (16.2, 10.95), (16.7, 11.05), (17.2, 11.15), (17.7, 11.25), (18.1, 11.4), (18.6, 11.45),
    (19.0, 11.75), (19.3, 11.5), (19.6, 11.25),
    (19.9, 10.95), (20.5, 10.85), (20.9, 10.95), (21.4, 11.0), (21.9, 11.15), (22.4, 11.35), (22.9, 11.5),
    (23.3, 11.7), (23.8, 11.9), (24.2, 12.1), (24.6, 12.4), (25.1, 12.6), (25.6, 12.8), (26.1, 13.0),
    (26.6, 13.2), (27.1, 13.45), (27.4, 13.65), (27.7, 13.85), (28.1, 14.0), (28.4, 14.15), (28.7, 14.55),
    (29.0, 15.9), (25.0, 10.5), (25.8, 10.9),
    (31.6, 12.35), (32.3, 12.3), (32.8, 12.3), (33.4, 12.35), (34.5, 13.75), (35.6, 13.25), (37.1, 12.95),
    (40.2, 11.6), (40.7, 11.95), (41.2, 11.95), (41.7, 12.0), (42.3, 12.2), (42.8, 12.5), (43.2, 12.8),
    (43.4, 12.85),
    (43.8, 11.15), (44.3, 11.45), (44.7, 11.55), (45.3, 11.65), (45.8, 11.75), (46.2, 12.0), (46.7, 12.4),
    (47.1, 12.6), (47.5, 12.95),
    (48.0, 10.65), (48.4, 10.95), (48.8, 11.1), (49.3, 11.25), (49.7, 11.4), (50.1, 11.55), (50.6, 11.75),
    (51.0, 11.9), (51.4, 12.1), (52.1, 12.3), (53.6, 11.8), (54.0, 11.75), (54.5, 10.9),
    (56.9, 11.6), (57.5, 13.65), (57.9, 11.7), (58.4, 11.7), (58.9, 11.6), (59.2, 11.95), (59.7, 11.1),
    (60.2, 12.55), (60.7, 12.9), (61.0, 11.45), (61.4, 11.3), (61.8, 9.9), (62.1, 11.25), (62.6, 11.1),
    (63.1, 10.95), (63.6, 10.85), (64.1, 11.1), (64.6, 10.8), (65.1, 10.75), (65.5, 10.7), (66.0, 10.65),
    (66.6, 10.6), (67.0, 10.6), (67.5, 10.55), (68.0, 10.6), (68.5, 10.85), (69.0, 10.55), (69.4, 10.4),
    (69.9, 10.45), (70.4, 10.55), (70.9, 10.7), (71.4, 10.9), (71.9, 11.15), (72.2, 11.4), (72.7, 11.7),
    (73.0, 10.55), (73.5, 10.4), (73.9, 10.35), (74.5, 10.4), (75.0, 10.5), (75.4, 10.65), (75.9, 10.8),
    (76.4, 10.95), (77.0, 11.05), (77.4, 11.1), (77.9, 11.15), (78.3, 10.95), (78.5, 10.2), (78.9, 10.7),
    (79.3, 10.85), (79.8, 10.65), (80.3, 10.7), (80.8, 10.75), (81.3, 10.9), (81.7, 11.0), (82.3, 11.2),
    (82.8, 11.4), (83.3, 11.6),
    (83.8, 10.55), (84.4, 10.75), (84.9, 10.85), (85.4, 10.9), (85.8, 11.0), (86.4, 11.15), (86.9, 11.25),
    (87.3, 10.6), (87.8, 10.4), (88.3, 10.45), (88.8, 10.55), (89.3, 10.7), (89.7, 10.8), (90.3, 10.9),
    (90.8, 11.05), (91.2, 11.25), (91.6, 11.4), (91.9, 11.1), (92.2, 10.9), (92.7, 10.7), (93.2, 10.55),
    (93.5, 10.2), (93.8, 10.4), (94.3, 10.55), (94.7, 10.7), (95.1, 10.95), (95.6, 11.1), (96.0, 11.3),
    (96.4, 11.5), (96.8, 11.75), (97.3, 12.0),
    (97.7, 10.75), (98.2, 10.5), (98.6, 10.35), (99.0, 10.2), (99.4, 10.45), (99.7, 10.65), (100.1, 10.8),
    (100.5, 10.95), (101.0, 11.1), (101.4, 11.3), (101.8, 11.5), (102.3, 11.6), (102.7, 11.75), (103.1, 11.9),
    (103.6, 12.15), (100.7, 8.2),
    (103.9, 10.75), (104.4, 10.8), (104.9, 10.9), (105.3, 11.0), (105.9, 11.1), (106.4, 11.3), (106.8, 11.5),
    (107.3, 11.75), (107.7, 12.0), (107.9, 12.4),
    (108.5, 11.55), (109.0, 11.4), (109.4, 11.3), (109.9, 11.4), (110.4, 11.5), (110.9, 11.65), (111.2, 11.75),
    (111.7, 11.4), (112.2, 11.3), (112.7, 11.4), (113.1, 11.3), (113.7, 11.4), (114.2, 11.5), (114.6, 11.5),
    (115.1, 11.65), (115.6, 11.75), (116.1, 11.95), (116.6, 12.6), (117.0, 12.9), (117.4, 13.15),
    (117.9, 11.55), (118.3, 11.5), (118.9, 11.5), (119.4, 11.5), (119.8, 11.55), (120.3, 11.6), (120.8, 11.75),
    (121.3, 11.8), (121.8, 11.7), (122.4, 10.9), (122.9, 11.7), (123.4, 11.8), (123.9, 11.9), (124.4, 11.95),
    (124.8, 12.05), (125.4, 12.15), (125.9, 12.05), (126.3, 11.95), (126.8, 11.9), (127.3, 11.8), (127.8, 11.65),
    (128.3, 11.55), (128.7, 11.65), (129.3, 11.8), (129.8, 11.9), (130.2, 12.0), (130.7, 12.2), (131.1, 12.4),
    (131.5, 12.7), (131.9, 12.85),
    (132.4, 11.55), (132.8, 11.65), (133.3, 11.6), (133.8, 11.6), (134.3, 11.7), (134.8, 11.9), (135.3, 12.05),
    (135.6, 12.25), (136.1, 12.5), (136.6, 12.75), (137.0, 12.95), (137.2, 13.2),
    (137.4, 11.35), (137.9, 11.4), (138.4, 11.45), (138.9, 11.55), (139.4, 11.65), (139.8, 11.75), (140.3, 11.9),
    (140.8, 12.0), (141.3, 12.2), (141.8, 12.35), (142.3, 12.4), (142.8, 12.25), (143.2, 12.15), (143.7, 12.05),
    (144.2, 12.0), (144.7, 12.05), (145.2, 12.2), (145.6, 12.4), (146.2, 12.5), (146.7, 12.75), (147.1, 12.95),
    (148.1, 11.8), (148.6, 12.1), (149.1, 12.2), (149.6, 12.05), (150.1, 12.2), (150.6, 12.3), (151.1, 12.0),
    (151.4, 12.35), (151.9, 12.45), (152.3, 12.4), (152.8, 12.55), (153.3, 12.4), (153.8, 11.55), (154.3, 12.55),
    (154.8, 12.7), (155.3, 12.75), (155.8, 12.8), (156.1, 11.8), (156.4, 12.7), (156.9, 12.85), (157.4, 12.9),
    (157.9, 12.7), (158.4, 12.4), (158.9, 12.6), (159.3, 12.05), (159.8, 12.05), (160.4, 12.35), (160.8, 12.5),
    (161.3, 12.55), (161.8, 12.7), (162.3, 12.75), (162.8, 12.85), (163.2, 12.75), (163.8, 12.95), (164.3, 13.05),
    (164.7, 13.1), (165.2, 13.3), (165.7, 13.1), (166.0, 12.05), (166.5, 12.95), (167.0, 12.85), (167.5, 13.0),
    (168.0, 13.2), (168.4, 13.1), (168.9, 12.95), (169.4, 13.05), (169.9, 13.3), (170.4, 13.1), (170.9, 12.95),
    (171.4, 12.9), (171.9, 12.9), (172.3, 13.0), (172.8, 13.1), (173.3, 13.2), (173.8, 13.3), (174.1, 13.2),
    (174.6, 12.7), (174.9, 12.4), (175.4, 12.4), (175.9, 12.45), (176.4, 12.5), (176.9, 12.6), (177.4, 12.55),
    (177.9, 12.7), (178.4, 12.75), (178.8, 12.75), (179.3, 12.6), (179.8, 12.7),
]
f_mean = 12.0

# panel texts
re_labels = ['400', '400', '700', '700', '900', '900']
places = ['upper wall center', 'near side wall'] * 3
tags = [r'(a) $z/W_D$=0.0', r'(b) $z/W_D$=0.4', r'(c) $z/W_D$=0.0',
        r'(d) $z/W_D$=0.4', r'(e) $z/W_D$ =0.0', r'(f) $z/W_D$=0.4']
title_gap = [14, 10, 12, 8, 14, 8]

# ---------------- figure ----------------
fig = plt.figure(figsize=(10.69, 15.58), dpi=100)
L, W = 0.0758, 0.8943
rects = [(0.8793, 0.0841), (0.7400, 0.0854), (0.5507, 0.0834),
         (0.4012, 0.0847), (0.2035, 0.0873), (0.0571, 0.0873)]
axes = [fig.add_axes([L, b, W, h]) for b, h in rects]


def style(ax, xmax, ylim, show_x):
    ax.set_xlim(0, xmax)
    ax.set_ylim(*ylim)
    ax.xaxis.set_major_locator(MultipleLocator(20))
    ax.xaxis.set_minor_locator(MultipleLocator(10))
    ax.yaxis.set_major_locator(MultipleLocator(2))
    ax.yaxis.set_minor_locator(MultipleLocator(1))
    ax.tick_params(which='both', direction='in', top=True, right=True, color='#555', width=0.8)
    ax.tick_params(which='major', length=5.5, labelsize=22)
    ax.tick_params(axis='y', which='major', pad=3)
    ax.tick_params(axis='x', which='major', labelsize=23, pad=8)
    ax.tick_params(which='minor', length=3)
    if not show_x:
        ax.tick_params(labelbottom=False)
    for s in ax.spines.values():
        s.set_color('#333')
        s.set_linewidth(1.0)
    ax.set_ylabel(r'$x/S$', fontsize=23, labelpad=0)


def dots(ax, t, x, light=False):
    ax.plot(t, x, 'o', ms=5.0 if light else 5.5, mfc='none',
            mec='#444' if light else '#111', mew=0.6 if light else 0.85, zorder=2)


def mean_line(ax, y):
    ax.axhline(y, color=GREEN, lw=3.6, alpha=0.9, zorder=3)


def header(ax, i, dy):
    r = ax.annotate('Re', xy=(0, 1), xycoords='axes fraction', xytext=(1, dy),
                    textcoords='offset points', fontsize=25, fontweight='bold',
                    fontstyle='italic', ha='left', va='baseline')
    ax.annotate(' =' + re_labels[i], xy=(1, 0), xycoords=r, fontsize=25,
                fontweight='bold', ha='left', va='bottom')
    ax.annotate(places[i], xy=(0.198, 1), xycoords='axes fraction', xytext=(0, dy),
                textcoords='offset points', fontsize=24, ha='left', va='baseline')
    ax.annotate(tags[i], xy=(1.0, 1), xycoords='axes fraction', xytext=(0, dy),
                textcoords='offset points', fontsize=24, ha='right', va='baseline')


xl = r'$tU_{m0}/S$'

# (a)
ax = axes[0]
dots(ax, np.linspace(0, 38.3, len(a_first)), a_first)
dots(ax, np.linspace(38.5, 78.0, len(a_second)), a_second)
mean_line(ax, a_mean)
style(ax, 80, (8, 16), False)

# (b)
ax = axes[1]
dots(ax, np.linspace(0, 38.5, len(b_first)), b_first)
dots(ax, np.linspace(38.6, 78.3, len(b_second)), b_second)
mean_line(ax, b_mean)
style(ax, 80, (6, 14), True)
ax.set_xlabel(xl, fontsize=22, labelpad=11)

# (c)
ax = axes[2]
tc, xc = np.array(c_pts).T
dots(ax, tc, xc, light=True)
mean_line(ax, c_mean)
style(ax, 100, (8, 16), False)

# (d)
ax = axes[3]
dots(ax, np.linspace(0.2, 46.5, len(d_up_first)), d_up_first, light=True)
dots(ax, np.linspace(47.0, 99.9, len(d_up_second)), d_up_second, light=True)
dots(ax, np.linspace(1.1, 46.8, len(d_low_first)), d_low_first, light=True)
dots(ax, np.linspace(47.4, 97.5, len(d_low_second)), d_low_second, light=True)
td, xd = np.array(d_mid_pts).T
dots(ax, td, xd, light=True)
mean_line(ax, d_mean)
style(ax, 100, (8, 16), True)
ax.set_xlabel(xl, fontsize=22, labelpad=13)

# (e)
ax = axes[4]
te, xe = np.array(e_pts).T
dots(ax, te, xe)
mean_line(ax, e_mean)
style(ax, 180, (8, 16), False)

# (f)
ax = axes[5]
tf, xf = np.array(f_pts).T
dots(ax, tf, xf)
mean_line(ax, f_mean)
style(ax, 180, (8, 16), True)
ax.set_xlabel(xl, fontsize=22, labelpad=4)

for i, ax in enumerate(axes):
    header(ax, i, title_gap[i])

fig.savefig('out.png', dpi=100)
